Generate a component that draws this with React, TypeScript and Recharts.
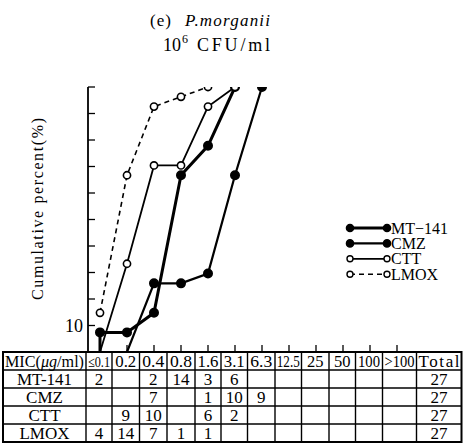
import React from 'react';
import { LineChart, Line, XAxis, YAxis, Legend } from 'recharts';

// ---------- data ----------
const MIC_LABELS = ['≤0.1', '0.2', '0.4', '0.8', '1.6', '3.1', '6.3', '12.5', '25', '50', '100', '>100'];
const TABLE_DRUGS = ['MT-141', 'CMZ', 'CTT', 'LMOX'];
const MT141_COUNTS = [2, null, 2, 14, 3, 6, null, null, null, null, null, null];
const CMZ_COUNTS = [null, null, 7, null, 1, 10, 9, null, null, null, null, null];
const CTT_COUNTS = [null, 9, 10, null, 6, 2, null, null, null, null, null, null];
const LMOX_COUNTS = [4, 14, 7, 1, 1, null, null, null, null, null, null, null];
const TOTALS = [27, 27, 27, 27];

// cumulative percent (x = index into MIC_LABELS)
const MT141_X = [0, 0, 1, 2, 3, 4, 5];
const MT141_PCT = [0, 7.4, 7.4, 14.8, 66.7, 77.8, 100];
const CMZ_X = [1, 2, 3, 4, 5, 6];
const CMZ_PCT = [0, 25.9, 25.9, 29.6, 66.7, 100];
const CTT_X = [0, 1, 2, 3, 4, 5];
const CTT_PCT = [0, 33.3, 70.4, 70.4, 92.6, 100];
const LMOX_X = [0, 1, 2, 3, 4];
const LMOX_PCT = [14.8, 66.7, 92.6, 96.3, 100];

const Y_TICKS = [10, 20, 30, 40, 50, 60, 70, 80, 90, 100];
const Y_LABELED = [10];

// ---------- layout ----------
const W = 471;
const H = 445;
const PLOT_LEFT = 88;
const PLOT_TOP = 87;
const PLOT_BOTTOM = 352;
const PLOT_RIGHT = 441;
const FIRST_X = 100;
const STEP = 27;
const X_MIN = -(FIRST_X - PLOT_LEFT) / STEP;
const X_MAX = X_MIN + (PLOT_RIGHT - PLOT_LEFT) / STEP;

const FONT = 'Liberation Serif, Times New Roman, DejaVu Serif, serif';
const FS = { fontFamily: FONT };

const toData = (xs: number[], ys: number[]) => xs.map((x, i) => ({ x, y: ys[i] }));

const SERIES = [
  { name: 'MT−141', data: toData(MT141_X, MT141_PCT), width: 3, dash: undefined as string | undefined, filled: true, r: 4.2 },
  { name: 'CMZ', data: toData(CMZ_X, CMZ_PCT), width: 2.2, dash: undefined as string | undefined, filled: true, r: 4.2 },
  { name: 'CTT', data: toData(CTT_X, CTT_PCT), width: 1.8, dash: undefined as string | undefined, filled: false, r: 3.6 },
  { name: 'LMOX', data: toData(LMOX_X, LMOX_PCT), width: 1.6, dash: '5 4', filled: false, r: 3.6 },
];

const makeDot = (filled: boolean, r: number) => (props: any) => {
  const { cx, cy, index, payload } = props;
  if (cx == null || cy == null || (payload && payload.y === 0)) return <g key={`d${index}`} />;
  return (
    <circle
      key={`d${index}`}
      cx={cx}
      cy={cy}
      r={r}
      fill={filled ? '#000' : '#fff'}
      stroke="#000"
      strokeWidth={1.6}
    />
  );
};

const YTick = (props: any) => {
  const { y, payload } = props;
  if (!Y_LABELED.includes(payload.value)) return <g />;
  return (
    <text x={PLOT_LEFT - 5} y={y + 6} textAnchor="end" fontSize={18} style={FS} fill="#000">
      {payload.value}
    </text>
  );
};

const LegendContent = () => {
  const rowH = 15.4;
  return (
    <svg width={130} height={70} style={{ overflow: 'visible', display: 'block' }}>
      {SERIES.map((s, i) => {
        const cy = 8 + i * rowH;
        return (
          <g key={s.name}>
            <line x1={5} y1={cy} x2={42} y2={cy} stroke="#000" strokeWidth={s.width} strokeDasharray={s.dash} />
            <circle cx={5} cy={cy} r={s.r - 0.6} fill={s.filled ? '#000' : '#fff'} stroke="#000" strokeWidth={1.4} />
            <circle cx={42} cy={cy} r={s.r - 0.6} fill={s.filled ? '#000' : '#fff'} stroke="#000" strokeWidth={1.4} />
            <text x={46} y={cy + 5.5} fontSize={16} style={FS} fill="#000">
              {s.name}
            </text>
          </g>
        );
      })}
    </svg>
  );
};

const COL_EDGES = [3, 86, 112, 139.5, 167, 195, 221, 247.5, 275, 301.5, 329, 355.5, 382.5, 416.5, 461.5];
const ROW_EDGES = [352, 370, 388, 406, 424, 442];
const HEADER_FIT: Record<string, number | undefined> = {
  '≤0.1': 22, '0.2': 21, '0.4': 22, '0.8': 22, '1.6': 21, '3.1': 21, '6.3': 22, '12.5': 23, '100': 22, '>100': 30,
};
const HEADER_SIZE: Record<string, number | undefined> = { '≤0.1': 15 };

const Table = () => {
  const rows = [MT141_COUNTS, CMZ_COUNTS, CTT_COUNTS, LMOX_COUNTS];
  const left = COL_EDGES[0];
  const right = COL_EDGES[COL_EDGES.length - 1];
  const top = ROW_EDGES[0];
  const bottom = ROW_EDGES[ROW_EDGES.length - 1];
  const cx = (c: number) => (COL_EDGES[c] + COL_EDGES[c + 1]) / 2;
  return (
    <g style={FS} fill="#000">
      <rect x={left} y={top} width={right - left} height={bottom - top} fill="#fff" stroke="#000" strokeWidth={2} />
      {COL_EDGES.slice(1, -1).map((x, i) => (
        <line key={`c${i}`} x1={x} y1={top} x2={x} y2={bottom} stroke="#000" strokeWidth={1.4} />
      ))}
      {ROW_EDGES.slice(1, -1).map((y, i) => (
        <line key={`r${i}`} x1={left} y1={y} x2={right} y2={y} stroke="#000" strokeWidth={1.4} />
      ))}
      {/* header */}
      <text x={5} y={top + 14.5} fontSize={16.5} style={FS} textLength={79} lengthAdjust="spacingAndGlyphs">
        MIC(<tspan fontStyle="italic">μg</tspan>/ml)
      </text>
      {MIC_LABELS.map((lab, i) => {
        const fit = HEADER_FIT[lab];
        return (
          <text
            key={`h${i}`}
            x={cx(i + 1)}
            y={top + 14.5}
            fontSize={HEADER_SIZE[lab] ?? 16.5}
            style={FS}
            textAnchor="middle"
            textLength={fit}
            lengthAdjust={fit ? 'spacingAndGlyphs' : undefined}
          >
            {lab}
          </text>
        );
      })}
      <text x={cx(13)} y={top + 15} fontSize={17} style={FS} textAnchor="middle" textLength={41} lengthAdjust="spacing">
        Total
      </text>
      {/* body */}
      {rows.map((vals, r) => {
        const y = ROW_EDGES[r + 1] + 15;
        return (
          <g key={`row${r}`}>
            <text x={cx(0)} y={y} fontSize={17} style={FS} textAnchor="middle">
              {TABLE_DRUGS[r]}
            </text>
            {vals.map((v, c) =>
              v == null ? null : (
                <text key={`v${c}`} x={cx(c + 1)} y={y} fontSize={17} style={FS} textAnchor="middle">
                  {v}
                </text>
              ),
            )}
            <text x={cx(13)} y={y} fontSize={17} style={FS} textAnchor="middle">
              {TOTALS[r]}
            </text>
          </g>
        );
      })}
    </g>
  );
};

export default function App() {
  return (
    <div style={{ position: 'absolute', left: 0, top: 0, width: W, height: H, background: '#fff' }}>
      <LineChart
        width={W}
        height={H}
        margin={{ top: PLOT_TOP, right: W - PLOT_RIGHT, bottom: H - PLOT_BOTTOM, left: PLOT_LEFT }}
      >
        <XAxis
          type="number"
          dataKey="x"
          domain={[X_MIN, X_MAX]}
          allowDataOverflow
          ticks={MIC_LABELS.map((_, i) => i)}
          mirror
          height={30}
          axisLine={false}
          tickLine={{ stroke: '#000', strokeWidth: 1.3 }}
          tickSize={7}
          tickFormatter={() => ''}
        />
        <YAxis
          type="number"
          domain={[0, 100]}
          allowDataOverflow
          ticks={Y_TICKS}
          mirror
          width={60}
          axisLine={{ stroke: '#000', strokeWidth: 1.8 }}
          tickLine={{ stroke: '#000', strokeWidth: 1.3 }}
          tickSize={7}
          tick={<YTick />}
        />
        <Legend
          layout="vertical"
          align="center"
          verticalAlign="middle"
          wrapperStyle={{ left: 345, top: 220, width: 130 }}
          content={() => <LegendContent />}
        />
        {SERIES.map((s) => (
          <Line
            key={s.name}
            data={s.data}
            dataKey="y"
            name={s.name}
            stroke="#000"
            strokeWidth={s.width}
            strokeDasharray={s.dash}
            dot={makeDot(s.filled, s.r)}
            activeDot={false}
            isAnimationActive={false}
          />
        ))}
      </LineChart>
      <svg
        width={W}
        height={H}
        style={{ position: 'absolute', left: 0, top: 0, pointerEvents: 'none' }}
      >
        <g style={FS} fill="#000">
          <text x={150} y={26} fontSize={17} style={FS} textLength={21} lengthAdjust="spacing">(e)</text>
          <text x={185} y={26} fontSize={17} style={FS} fontStyle="italic" textLength={85} lengthAdjust="spacing">
            P.morganii
          </text>
          <text x={163} y={51} fontSize={18} style={FS} textLength={18} lengthAdjust="spacing">10</text>
          <text x={182} y={43} fontSize={12} style={FS}>6</text>
          <text x={197} y={51} fontSize={18} style={FS} textLength={73} lengthAdjust="spacing">CFU/ml</text>
          <text
            x={43}
            y={209}
            fontSize={16}
            style={FS}
            textAnchor="middle"
            textLength={182}
            lengthAdjust="spacing"
            transform="rotate(-90 43 209)"
          >
            Cumulative percent(%)
          </text>
        </g>
        <Table />
      </svg>
    </div>
  );
}
